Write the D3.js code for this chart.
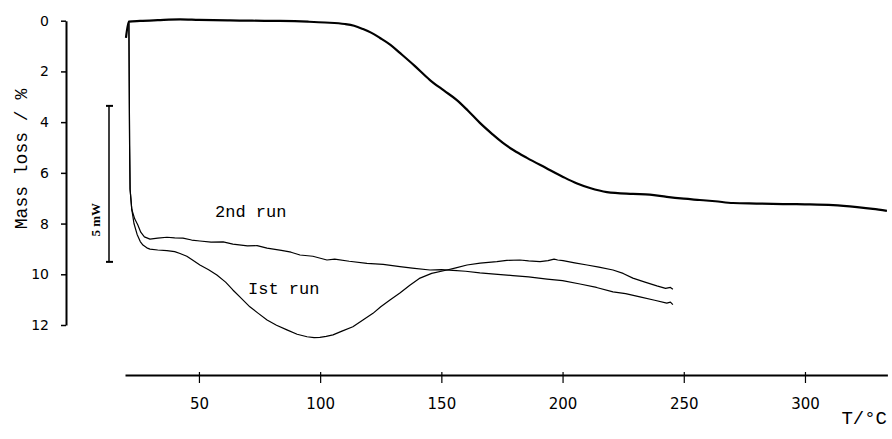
<!DOCTYPE html>
<html>
<head>
<meta charset="utf-8">
<script src="https://cdn.jsdelivr.net/npm/d3@7"></script>
<style>
  html, body { margin: 0; padding: 0; background: #fff; }
  svg { display: block; }
</style>
</head>
<body>
<svg id="chart" width="892" height="439"></svg>
<script>
// Thermogravimetric curve: temperature (°C) and mass loss (%)
const tgTemp = [19.9, 21.1, 25.7, 33, 42.2, 50, 62.8, 72, 83.4, 95, 102, 110.2, 114, 117.7, 121, 124.7,
  129, 132.9, 139, 145.3, 151, 156.4, 161, 165.9, 171, 175.4, 180, 185.3, 193, 200.2, 206, 211.3,
  218.3, 229, 236, 243, 250, 256.6, 263, 270.3, 280, 290.9, 300, 311.6, 321.5, 328, 333.8];
const tgMass = [0.68, 0.04, 0.01, -0.02, -0.05, -0.03, -0.01, 0.00, 0.01, 0.04, 0.07, 0.13, 0.2, 0.33, 0.47, 0.68,
  0.95, 1.27, 1.78, 2.34, 2.75, 3.13, 3.55, 4.03, 4.47, 4.82, 5.12, 5.41, 5.8, 6.16, 6.42, 6.60,
  6.76, 6.83, 6.86, 6.95, 7.02, 7.07, 7.12, 7.19, 7.21, 7.23, 7.24, 7.27, 7.35, 7.42, 7.50];

// DSC traces: temperature (°C) and heat flow (mW, endothermic downward)
const run1Temp = [21.1, 21.4, 21.6, 22.3, 23.2, 24.5, 25.8, 26.9, 28.5, 29.8, 33, 36.8, 40, 42.2, 45, 47.5,
  50.4, 54, 57.4, 61, 64.0, 67.5, 71.0, 74.5, 78.1, 82, 86.3, 90.5, 94.6, 97.5, 99.9, 102.5, 105.3,
  109, 113.5, 117.5, 121.8, 125, 128.8, 132.9, 137, 141.2, 146, 152.3, 156, 160.6, 166, 172.9, 177,
  182.4, 186, 190.7, 194, 196.5, 198, 200.2, 205, 210.1, 215, 220.8, 225, 229.0, 234, 238.9, 242.5,
  244.5, 245.5];
const run1Flow = [0.05, 4.0, 5.4, 6.05, 6.5, 6.85, 7.08, 7.19, 7.28, 7.32, 7.35, 7.37, 7.40, 7.46, 7.55, 7.68,
  7.83, 7.98, 8.15, 8.38, 8.63, 8.90, 9.17, 9.38, 9.59, 9.76, 9.91, 10.05, 10.13, 10.16, 10.15, 10.12, 10.07,
  9.95, 9.81, 9.60, 9.38, 9.17, 8.95, 8.73, 8.48, 8.25, 8.10, 7.99, 7.92, 7.83, 7.77, 7.72, 7.68,
  7.67, 7.70, 7.72, 7.69, 7.64, 7.67, 7.69, 7.76, 7.83, 7.90, 7.99, 8.10, 8.25, 8.38, 8.50, 8.58,
  8.55, 8.61];

const run2Temp = [21.1, 21.4, 21.6, 22.3, 23.5, 24.8, 26.0, 27.5, 29.8, 33, 36.8, 40, 43.4, 47, 50.4, 55,
  60, 64.0, 70, 74, 78.1, 84, 88, 91.7, 97, 102.8, 106, 112, 119.3, 126, 132.9, 138, 145.3, 150,
  154.8, 160, 165.9, 172, 179.5, 186, 193.6, 200, 207.2, 214, 220.8, 226, 231.9, 238, 243, 244.5, 245.5];
const run2Flow = [0.05, 4.0, 5.4, 6.05, 6.35, 6.55, 6.78, 6.93, 7.00, 6.97, 6.94, 6.96, 6.97, 7.03, 7.06, 7.10,
  7.09, 7.16, 7.22, 7.21, 7.29, 7.36, 7.42, 7.51, 7.55, 7.67, 7.64, 7.71, 7.78, 7.81, 7.88, 7.93, 7.99, 7.98,
  8.00, 8.03, 8.08, 8.12, 8.17, 8.21, 8.28, 8.33, 8.44, 8.55, 8.69, 8.75, 8.85, 8.96, 9.05, 9.02, 9.10];

// Axis ticks
const xTicks = [50, 100, 150, 200, 250, 300];
const yTicks = [0, 2, 4, 6, 8, 10, 12];

// Heat-flow calibration bar (mW)
const barFrom = 2.73;
const barSpan = 5;
const barLabel = "5 mW";

const svg = d3.select("#chart");

const x = d3.scaleLinear().domain([19.5, 334]).range([125, 887.4]);
const y = d3.scaleLinear().domain([0, 12]).range([20.7, 325]);
const yDsc = d3.scaleLinear().domain([0, 10]).range([20.7, 332.7]);

const mono = "'Courier New', Courier, 'Liberation Mono', monospace";

// x axis
const gx = svg.append("g")
  .attr("transform", "translate(0,375)")
  .call(d3.axisBottom(x).tickValues(xTicks).tickSizeOuter(0).tickSizeInner(8).tickPadding(15));
gx.select(".domain").attr("stroke", "#000").attr("stroke-width", 2);
gx.selectAll(".tick line").attr("y1", -3).attr("y2", 8).attr("stroke", "#000").attr("stroke-width", 1.2);
gx.selectAll(".tick text").attr("font-family", "'DejaVu Sans', sans-serif").attr("font-size", 15).attr("fill", "#000");

// y axis
const gy = svg.append("g")
  .attr("transform", "translate(66,0)")
  .call(d3.axisLeft(y).tickValues(yTicks).tickSizeOuter(0).tickSizeInner(5).tickPadding(12));
gy.select(".domain").attr("stroke", "#000").attr("stroke-width", 2);
gy.selectAll(".tick line").attr("stroke", "#000").attr("stroke-width", 1.5);
gy.selectAll(".tick text").attr("font-family", "'DejaVu Sans', sans-serif").attr("font-size", 14).attr("fill", "#000");

// axis titles
svg.append("text")
  .attr("transform", "translate(27,159) rotate(-90)")
  .attr("text-anchor", "middle")
  .attr("font-family", mono).attr("font-size", 18)
  .text("Mass loss / %");

svg.append("text")
  .attr("x", 887).attr("y", 424)
  .attr("text-anchor", "end")
  .attr("font-family", mono).attr("font-size", 19)
  .text("T/°C");

// calibration bar
const barX = 109;
const bar = svg.append("g").attr("stroke", "#000");
bar.append("line").attr("x1", barX).attr("x2", barX)
  .attr("y1", yDsc(barFrom)).attr("y2", yDsc(barFrom + barSpan)).attr("stroke-width", 1.5);
[barFrom, barFrom + barSpan].forEach(v => {
  bar.append("line").attr("x1", barX - 3).attr("x2", barX + 4)
    .attr("y1", yDsc(v)).attr("y2", yDsc(v)).attr("stroke-width", 2);
});
svg.append("text")
  .attr("transform", `translate(100,${yDsc(barFrom + barSpan * 0.73)}) rotate(-90)`)
  .attr("text-anchor", "middle")
  .attr("font-family", "'Liberation Serif', 'Times New Roman', serif")
  .attr("font-weight", "bold").attr("font-size", 13)
  .text(barLabel);

// curves
const tgLine = d3.line().x(d => x(d[0])).y(d => y(d[1])).curve(d3.curveMonotoneX);
const dscLine = d3.line().x(d => x(d[0])).y(d => yDsc(d[1])).curve(d3.curveLinear);

svg.append("path")
  .datum(d3.zip(tgTemp, tgMass))
  .attr("d", tgLine)
  .attr("fill", "none").attr("stroke", "#000").attr("stroke-width", 2.2)
  .attr("stroke-linejoin", "round");

svg.append("path")
  .datum(d3.zip(run1Temp, run1Flow))
  .attr("d", dscLine)
  .attr("fill", "none").attr("stroke", "#000").attr("stroke-width", 1.2)
  .attr("stroke-linejoin", "round");

svg.append("path")
  .datum(d3.zip(run2Temp, run2Flow))
  .attr("d", dscLine)
  .attr("fill", "none").attr("stroke", "#000").attr("stroke-width", 1.2)
  .attr("stroke-linejoin", "round");

// curve labels
svg.append("text")
  .attr("x", 215).attr("y", 217)
  .attr("font-family", mono).attr("font-size", 17)
  .text("2nd run");
svg.append("text")
  .attr("x", 248).attr("y", 294)
  .attr("font-family", mono).attr("font-size", 17)
  .text("Ist run");
</script>
</body>
</html>
